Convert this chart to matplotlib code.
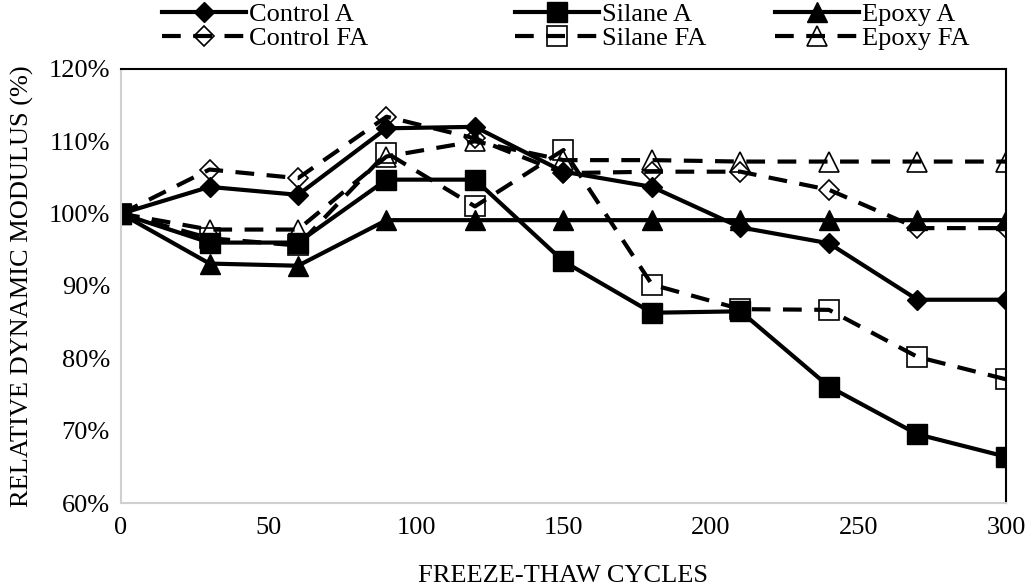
import matplotlib
matplotlib.use('Agg')
import matplotlib.pyplot as plt
from matplotlib.ticker import FuncFormatter, MultipleLocator

plt.rcParams['font.family'] = ['Liberation Serif', 'DejaVu Serif']

cycles = [0, 30, 60, 90, 120, 150, 180, 210, 240, 270, 300]

# relative dynamic modulus, percent
control_a = [100, 103.7, 102.6, 111.8, 112.0, 105.8, 103.7, 98.1, 95.9, 88.1, 88.1]
control_fa = [100, 106.1, 104.9, 113.4, 110.4, 105.6, 105.8, 105.8, 103.3, 98.0, 98.0]
silane_a = [100, 96.0, 96.0, 104.7, 104.7, 93.4, 86.3, 86.5, 76.1, 69.5, 66.4]
silane_fa = [100, 96.6, 95.6, 108.4, 101.0, 108.8, 90.2, 86.8, 86.7, 80.2, 77.1]
epoxy_a = [100, 93.1, 92.8, 99.1, 99.1, 99.1, 99.1, 99.1, 99.1, 99.1, 99.1]
epoxy_fa = [100, 97.8, 97.8, 107.9, 110.0, 107.4, 107.4, 107.2, 107.2, 107.2, 107.2]

series = [
    ('Control A', control_a, 'D', 10.5, True),
    ('Control FA', control_fa, 'D', 10.5, False),
    ('Silane A', silane_a, 's', 15, True),
    ('Silane FA', silane_fa, 's', 14.5, False),
    ('Epoxy A', epoxy_a, '^', 15, True),
    ('Epoxy FA', epoxy_fa, '^', 15, False),
]

FS = 19

fig = plt.figure(figsize=(10.29, 5.87), dpi=100)
ax = fig.add_axes([0.1176, 0.1431, 0.86, 0.7394])

lines = []
for name, vals, mk, ms, solid in series:
    if solid:
        ln, = ax.plot(cycles, vals, color='black', lw=3, marker=mk, ms=ms,
                      mfc='black', mec='black', label=name)
    else:
        ln, = ax.plot(cycles, vals, color='black', lw=3, dashes=(4.5, 3), marker=mk,
                      ms=ms, mfc='none', mec='black', mew=1.2, label=name)
    lines.append(ln)

ax.set_xlim(0, 300)
ax.set_ylim(60, 120)
ax.xaxis.set_major_locator(MultipleLocator(50))
ax.yaxis.set_major_locator(MultipleLocator(10))
ax.yaxis.set_major_formatter(FuncFormatter(lambda v, p: '%d%%' % round(v)))
ax.tick_params(length=0, labelsize=FS)
ax.tick_params(axis='x', pad=10)
ax.tick_params(axis='y', pad=8)

for s in ['left', 'bottom']:
    ax.spines[s].set_color('#d0d0d0')
    ax.spines[s].set_linewidth(1.5)
for s in ['top', 'right']:
    ax.spines[s].set_color('black')
    ax.spines[s].set_linewidth(1.5)

ax.set_xlabel('FREEZE-THAW CYCLES', fontsize=FS)
ax.set_ylabel('RELATIVE DYNAMIC MODULUS (%)', fontsize=FS)
ax.xaxis.set_label_coords(0.5, -0.143)
ax.yaxis.set_label_coords(-0.098, 0.5)

# one two-row legend block per treatment, placed along the top
for i, x0 in enumerate([0.157, 0.500, 0.753]):
    leg = fig.legend(handles=lines[2 * i:2 * i + 2], loc='upper left',
                     bbox_to_anchor=(x0, 0.995), ncol=1, frameon=False,
                     fontsize=FS, handlelength=3.2, handletextpad=0.1,
                     labelspacing=0.0, borderpad=0, borderaxespad=0)

fig.savefig('out.png', dpi=100)
